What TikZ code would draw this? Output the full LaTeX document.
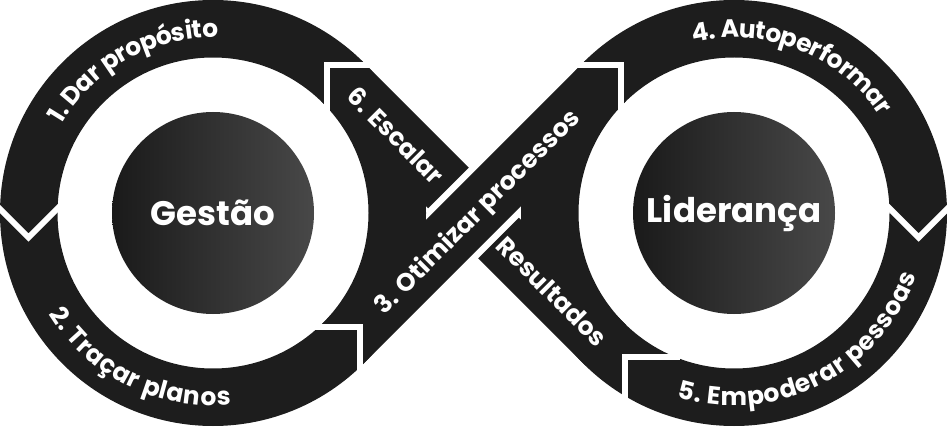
\documentclass[tikz,border=0pt]{standalone}
\usepackage{fontspec}
\setmainfont{Poppins}
\usetikzlibrary{decorations.text}
\definecolor{loopblack}{RGB}{29,29,29}
\definecolor{hubdark}{RGB}{26,26,26}
\definecolor{hublight}{RGB}{72,72,72}
\newcommand\bandfont{\color{white}\bfseries\fontsize{25}{25}\selectfont}

\begin{document}
\begin{tikzpicture}[x=1pt,y=1pt,
  loopfill/.style={fill=loopblack},
  cutline/.style={draw=white,line width=6pt,line join=miter},
  gapline/.style={draw=white,line width=13pt},
  bandtext/.style={font=\bandfont,text=white,inner sep=0pt,text depth=0pt},
  hub/.style={circle,minimum size=202pt,inner sep=0pt,left color=hubdark,right color=hublight,
    text=white,font=\bfseries\fontsize{34}{34}\selectfont},
  arclabel/.style={decorate,decoration={text along path,text align=center,raise=-8.7pt,
    text={|\bandfont|#1}}}]
\useasboundingbox (0,0) rectangle (947,426);
\coordinate (L) at (213,213);
\coordinate (R) at (734,213);

% 6 / Resultados band
\fill[loopfill] (320.9,325.1) -- (585.5,60.3) -- (626.1,100.9) -- (361.5,365.7) -- cycle;
\draw[gapline] (428,208.1) -- (482,262.1);
\draw[gapline] (468,166.8) -- (520,218.8);
% 3 band, on top
\fill[loopfill] (361.5,60.3) -- (626.1,325.1) -- (585.5,365.7) -- (320.9,100.9) -- cycle;

% the two loops
\fill[loopfill,even odd rule] (L) circle[radius=213pt] (L) circle[radius=155.5pt];
\fill[loopfill,even odd rule] (R) circle[radius=213pt] (R) circle[radius=155.5pt];

% cuts between the steps
\draw[cutline] (326.5,315) -- (326.5,361) -- (372,361);
\draw[cutline] (-5,222) -- (28.5,188.5) -- (62,222);
\draw[cutline] (312,99) -- (359.5,99) -- (359.5,50);
\draw[cutline] (575,361) -- (620.5,361) -- (620.5,314);
\draw[cutline] (885,222) -- (918.5,188.5) -- (952,222);
\draw[cutline] (625,25) -- (625,69.5) -- (680,69.5);

% labels on the loops
\path[arclabel={1. Dar propósito},shift={(L)}] (170:184) arc[start angle=170,end angle=68,radius=184pt];
\path[arclabel={2. Traçar planos},shift={(L)}] (190:184) arc[start angle=190,end angle=297,radius=184pt];
\path[arclabel={4. Autoperformar},shift={(R)}] (130:184) arc[start angle=130,end angle=7,radius=184pt];
\path[arclabel={5. Empoderar pessoas},shift={(R)}] (230:184) arc[start angle=230,end angle=364,radius=184pt];

% labels on the diagonals
\node[bandtext,rotate=-45] (escalar) at (396,290.6) {6. Escalar};
\node[bandtext,rotate=-45] (resultados) at (552,134.6) {Resultados};
\node[bandtext,rotate=45] (otimizar) at (476,215.4) {3. Otimizar processos};

% centres
\node[hub] (gestao) at (L) {Gestão};
\node[hub] (lideranca) at (R) {Liderança};
\end{tikzpicture}
\end{document}
